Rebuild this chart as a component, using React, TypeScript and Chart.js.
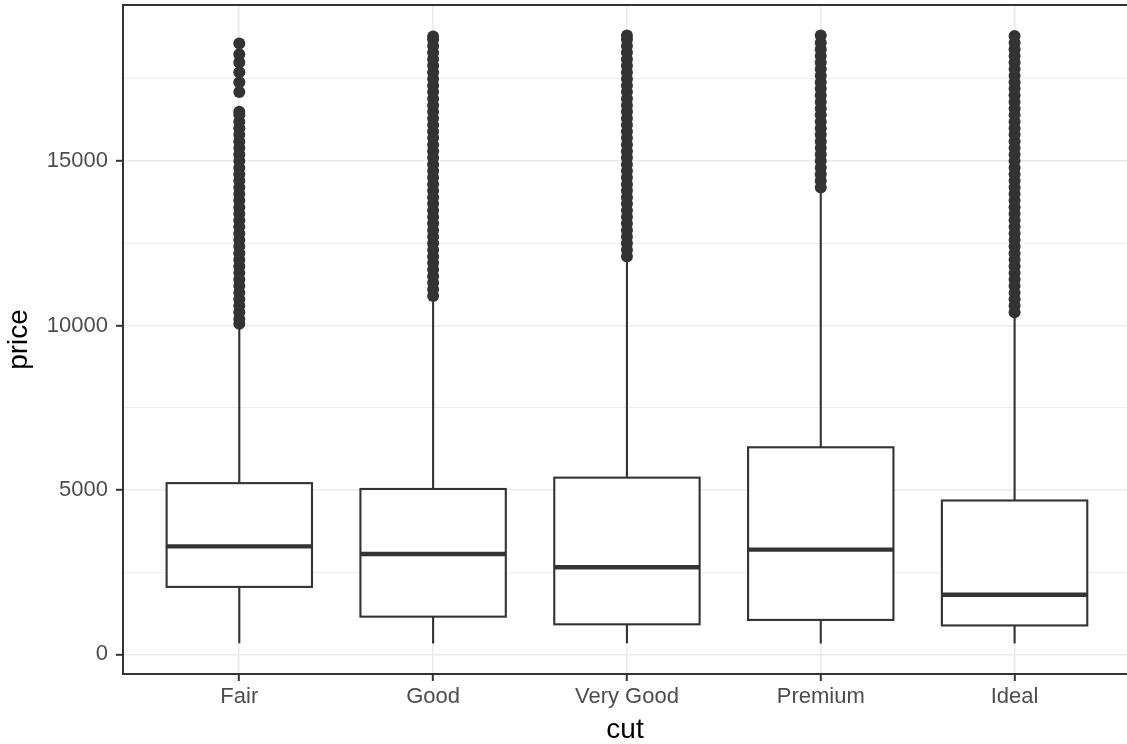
import React, { useEffect, useRef } from "react";
import { Chart, registerables } from "chart.js";

Chart.register(...registerables);

// ---- data ----
const cuts = ["Fair", "Good", "Very Good", "Premium", "Ideal"];
const whiskerLow = [337, 327, 336, 326, 326];
const q1 = [2050, 1145, 912, 1046, 878];
const medians = [3282, 3050, 2648, 3185, 1810];
const q3 = [5206, 5028, 5373, 6296, 4678];
const whiskerHigh = [9900, 10800, 12000, 14100, 10300];

const outliersFair = [10050, 10200, 10400, 10600, 10800, 11000, 11200, 11400, 11600, 11800, 12000, 12200, 12400, 12600, 12800, 13000, 13200, 13400, 13600, 13800, 14000, 14200, 14400, 14600, 14800, 15000, 15200, 15400, 15600, 15800, 16000, 16200, 16400, 16500, 17100, 17400, 17700, 18000, 18250, 18574];
const outliersGood = [10900, 11100, 11300, 11500, 11700, 11900, 12100, 12300, 12500, 12700, 12900, 13100, 13300, 13500, 13700, 13900, 14100, 14300, 14500, 14700, 14900, 15100, 15300, 15500, 15700, 15900, 16100, 16300, 16500, 16700, 16900, 17100, 17300, 17500, 17700, 17900, 18100, 18300, 18500, 18700, 18788];
const outliersVeryGood = [12100, 12300, 12500, 12700, 12900, 13100, 13300, 13500, 13700, 13900, 14100, 14300, 14500, 14700, 14900, 15100, 15300, 15500, 15700, 15900, 16100, 16300, 16500, 16700, 16900, 17100, 17300, 17500, 17700, 17900, 18100, 18300, 18500, 18700, 18818];
const outliersPremium = [14200, 14400, 14600, 14800, 15000, 15200, 15400, 15600, 15800, 16000, 16200, 16400, 16600, 16800, 17000, 17200, 17400, 17600, 17800, 18000, 18200, 18400, 18600, 18823];
const outliersIdeal = [10400, 10600, 10800, 11000, 11200, 11400, 11600, 11800, 12000, 12200, 12400, 12600, 12800, 13000, 13200, 13400, 13600, 13800, 14000, 14200, 14400, 14600, 14800, 15000, 15200, 15400, 15600, 15800, 16000, 16200, 16400, 16600, 16800, 17000, 17200, 17400, 17600, 17800, 18000, 18200, 18400, 18600, 18806];
const outliers = [outliersFair, outliersGood, outliersVeryGood, outliersPremium, outliersIdeal];

const yTickValues = [0, 2500, 5000, 7500, 10000, 12500, 15000, 17500];
const yMajorStep = 5000;
const yMin = -599;
const yMax = 19748;

const FONT = "'Liberation Sans', Arial, Helvetica, sans-serif";
const DARK = "#333333";
const BOX_HALF = 0.375;

const boxPlugin = {
  id: "boxes",
  beforeDatasetsDraw(chart: any) {
    const { ctx, scales } = chart;
    const x = scales.x;
    const y = scales.y;
    ctx.save();
    ctx.strokeStyle = DARK;
    ctx.lineCap = "butt";
    cuts.forEach((_, i) => {
      const cx = x.getPixelForValue(i + 1);
      const l = x.getPixelForValue(i + 1 - BOX_HALF);
      const r = x.getPixelForValue(i + 1 + BOX_HALF);
      const yLo = y.getPixelForValue(whiskerLow[i]);
      const yQ1 = y.getPixelForValue(q1[i]);
      const yMed = y.getPixelForValue(medians[i]);
      const yQ3 = y.getPixelForValue(q3[i]);
      const yHi = y.getPixelForValue(whiskerHigh[i]);
      ctx.lineWidth = 2.1;
      ctx.beginPath();
      ctx.moveTo(cx, yLo);
      ctx.lineTo(cx, yQ1);
      ctx.moveTo(cx, yQ3);
      ctx.lineTo(cx, yHi);
      ctx.stroke();
      ctx.fillStyle = "#ffffff";
      ctx.fillRect(l, yQ3, r - l, yQ1 - yQ3);
      ctx.strokeRect(l, yQ3, r - l, yQ1 - yQ3);
      ctx.lineWidth = 4.4;
      ctx.beginPath();
      ctx.moveTo(l, yMed);
      ctx.lineTo(r, yMed);
      ctx.stroke();
    });
    ctx.restore();
  },
};

const borderPlugin = {
  id: "panelBorder",
  afterDatasetsDraw(chart: any) {
    const { ctx, chartArea } = chart;
    ctx.save();
    ctx.strokeStyle = DARK;
    ctx.lineWidth = 2;
    ctx.strokeRect(chartArea.left, chartArea.top, chartArea.right - chartArea.left + 10, chartArea.bottom - chartArea.top);
    ctx.restore();
  },
};

export default function App() {
  const ref = useRef<HTMLCanvasElement | null>(null);

  useEffect(() => {
    document.body.style.margin = "0";
    const canvas = ref.current;
    if (!canvas) return;
    const datasets = outliers.map((vals, i) => ({
      type: "scatter" as const,
      label: cuts[i],
      data: vals.map((v) => ({ x: i + 1, y: v })),
      backgroundColor: DARK,
      borderColor: DARK,
      borderWidth: 0,
      pointRadius: 6,
      pointHoverRadius: 6,
    }));
    const chart = new Chart(canvas, {
      type: "scatter",
      data: { datasets },
      plugins: [boxPlugin, borderPlugin],
      options: {
        animation: false,
        responsive: false,
        events: [],
        layout: { autoPadding: false, padding: { left: 0, right: 0, top: 5, bottom: 0 } },
        plugins: { legend: { display: false }, tooltip: { enabled: false } },
        scales: {
          x: {
            type: "linear",
            min: 0.4,
            max: 5.58,
            afterBuildTicks: (scale: any) => {
              scale.ticks = cuts.map((_, i) => ({ value: i + 1 }));
            },
            afterFit: (scale: any) => {
              scale.height = 70;
              scale.paddingLeft = 0;
              scale.paddingRight = 0;
            },
            ticks: {
              autoSkip: false,
              maxRotation: 0,
              padding: 3,
              color: "#4D4D4D",
              font: { family: FONT, size: 22 },
              callback: (v: any) => cuts[Math.round(Number(v)) - 1] ?? "",
            },
            grid: {
              color: "#EBEBEB",
              lineWidth: 1.6,
              tickColor: DARK,
              tickWidth: 2,
              tickLength: 7,
            },
            border: { display: false },
            title: {
              display: true,
              text: "cut",
              color: "#000000",
              font: { family: FONT, size: 28, lineHeight: 1 },
              padding: { top: 0, bottom: 0 },
            },
          },
          y: {
            type: "linear",
            min: yMin,
            max: yMax,
            afterBuildTicks: (scale: any) => {
              scale.ticks = yTickValues.map((v) => ({ value: v }));
            },
            afterFit: (scale: any) => {
              scale.width = 123;
              scale.paddingTop = 0;
              scale.paddingBottom = 0;
            },
            ticks: {
              autoSkip: false,
              padding: 8,
              color: "#4D4D4D",
              font: { family: FONT, size: 22 },
              callback: (v: any) => (Number(v) % yMajorStep === 0 ? String(v) : ""),
            },
            grid: {
              color: "#EBEBEB",
              lineWidth: (c: any) => (c.tick && c.tick.value % yMajorStep === 0 ? 1.6 : 0.9),
              tickColor: (c: any) => (c.tick && c.tick.value % yMajorStep === 0 ? DARK : "rgba(0,0,0,0)"),
              tickWidth: 2,
              tickLength: 7,
            },
            border: { display: false },
            title: {
              display: true,
              text: "price",
              color: "#000000",
              font: { family: FONT, size: 28, lineHeight: 1 },
              padding: { top: 5, bottom: 0 },
            },
          },
        },
      },
    });
    return () => chart.destroy();
  }, []);

  return (
    <div style={{ width: 1127, height: 744 }}>
      <canvas ref={ref} width={1127} height={744} style={{ display: "block" }} />
    </div>
  );
}
